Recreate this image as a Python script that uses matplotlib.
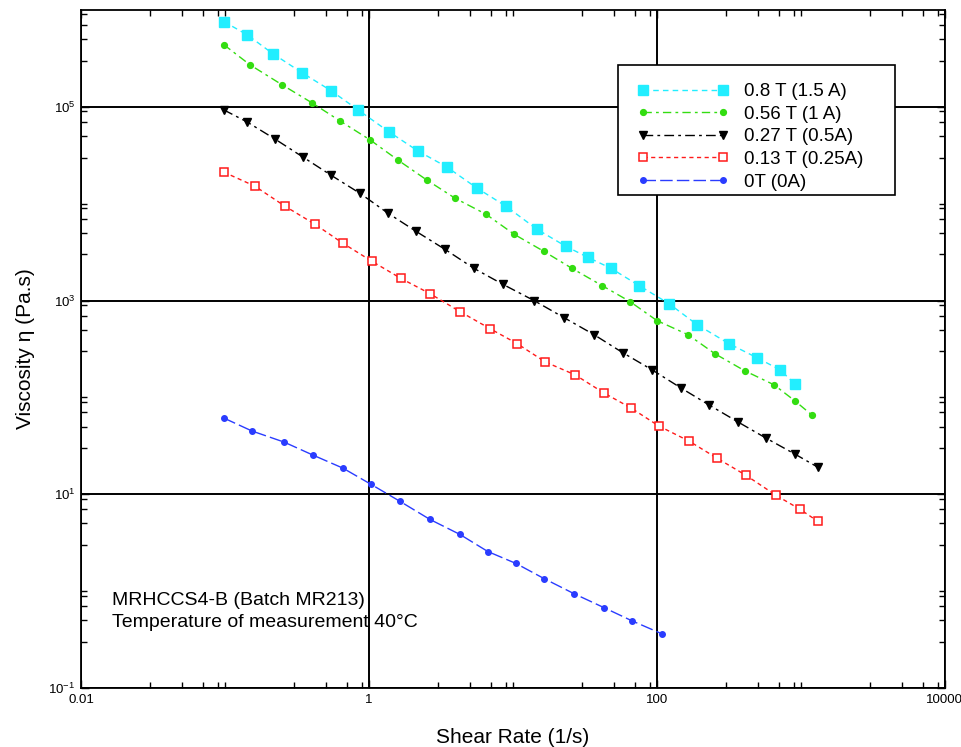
from pathlib import Path

import matplotlib

matplotlib.use("Agg")

import matplotlib.pyplot as plt
import numpy as np
from matplotlib.patches import Rectangle
from matplotlib.ticker import FixedLocator, FuncFormatter, NullFormatter


# DATA
SERIES_LABELS = [
    "0.8 T (1.5 A)",
    "0.56 T (1 A)",
    "0.27 T (0.5A)",
    "0.13 T (0.25A)",
    "0T (0A)",
]

RATE_08T = [0.098, 0.142, 0.215, 0.343, 0.545, 0.839, 1.38, 2.19, 3.48, 5.62, 8.94,
            14.7, 23.3, 33.2, 48.0, 75.0, 121, 190, 316, 495, 714, 908]
VISC_08T = [760000, 557000, 354000, 225000, 147000, 93100, 55100, 35000, 23900,
            14500, 9420, 5440, 3630, 2790, 2150, 1430, 931, 564, 359, 257, 193, 138]

RATE_056T = [0.098, 0.149, 0.249, 0.402, 0.629, 1.02, 1.59, 2.53, 3.96, 6.49, 10.2,
             16.4, 25.7, 41.5, 64.9, 100, 164, 253, 408, 650, 908, 1190]
VISC_056T = [439000, 272000, 169000, 110000, 71600, 45500, 28200, 17500, 11400,
             7790, 4830, 3220, 2150, 1430, 977, 621, 445, 282, 188, 135, 92.1, 65.9]

RATE_027T = [0.098, 0.142, 0.222, 0.348, 0.545, 0.866, 1.355, 2.12, 3.37, 5.36, 8.52,
             14.0, 22.6, 36.5, 58.0, 92.3, 147, 230, 366, 572, 908, 1312]
VISC_027T = [93100, 70000, 46600, 30300, 19700, 12800, 7980, 5190, 3380, 2150, 1470,
             1000, 667, 445, 289, 193, 125, 83.6, 55.7, 38.0, 26.0, 19.0]

RATE_013T = [0.098, 0.161, 0.261, 0.422, 0.66, 1.05, 1.67, 2.65, 4.28, 6.92, 10.7,
             16.7, 27.0, 42.9, 65.9, 103, 167, 261, 415, 670, 984, 1312]
VISC_013T = [21200, 15200, 9420, 6130, 3900, 2540, 1690, 1180, 770, 513, 359, 233,
             171, 111, 77.9, 50.7, 35.4, 23.6, 15.7, 9.77, 7.0, 5.25]

RATE_0T = [0.098, 0.154, 0.257, 0.408, 0.66, 1.03, 1.64, 2.65, 4.28, 6.70, 10.5,
           16.4, 26.5, 42.9, 67.0, 108]
VISC_0T = [61.3, 45.0, 34.6, 25.4, 18.6, 12.7, 8.46, 5.50, 3.85, 2.56, 1.93, 1.35,
           0.942, 0.675, 0.494, 0.363]

X_MAJOR = [0.01, 1, 100, 10000]
Y_MAJOR = [0.1, 10, 1e3, 1e5]

NOTE_LINES = [
    "MRHCCS4-B (Batch MR213)",
    "Temperature of measurement 40\u00b0C",
]


# STYLE
plt.rcParams["font.family"] = ["Liberation Sans", "DejaVu Sans"]
plt.rcParams["mathtext.fontset"] = "custom"
plt.rcParams["mathtext.rm"] = "Liberation Sans"

SERIES_STYLES = [
    dict(color="#22eeff", marker="s", markersize=6.5, mfc="#22eeff", mec="#22eeff",
         dashes=(4, 3)),
    dict(color="#33dd11", marker="o", markersize=4.2, mfc="#33dd11", mec="#33dd11",
         dashes=(6, 3, 2, 3)),
    dict(color="black", marker="v", markersize=6, mfc="black", mec="black",
         dashes=(7, 3, 2, 3)),
    dict(color="#ff1a1a", marker="s", markersize=6, mfc="white", mec="#ff1a1a",
         mew=1.1, dashes=(3, 2.5)),
    dict(color="#2a3cff", marker="o", markersize=4, mfc="#2a3cff", mec="#2a3cff",
         dashes=(9, 3)),
]


def minor_positions(low_exp, high_exp):
    positions = []
    for exponent in range(low_exp, high_exp):
        for factor in [1, 3, 5, 7, 9]:
            positions.append(factor * 10.0 ** exponent)
    return positions


def power_label(value, _pos):
    exponent = int(round(np.log10(value)))
    return r"$\mathregular{10^{%d}}$" % exponent


def plain_label(value, _pos):
    if value < 1:
        return f"{value:g}"
    return f"{int(value)}"


def main():
    figure = plt.figure(figsize=(9.61, 7.47), dpi=100)
    axis = figure.add_axes([0.0843, 0.079, 0.899, 0.9076])

    all_data = [
        (RATE_08T, VISC_08T),
        (RATE_056T, VISC_056T),
        (RATE_027T, VISC_027T),
        (RATE_013T, VISC_013T),
        (RATE_0T, VISC_0T),
    ]

    for (rate, visc), label, style in zip(all_data, SERIES_LABELS, SERIES_STYLES):
        style = dict(style)
        dashes = style.pop("dashes")
        line, = axis.plot(rate, visc, label=label, linewidth=1.0, **style)
        line.set_dashes(dashes)

    axis.set_xscale("log")
    axis.set_yscale("log")
    axis.set_xlim(0.01, 10000)
    axis.set_ylim(0.1, 1e6)

    axis.xaxis.set_major_locator(FixedLocator(X_MAJOR))
    axis.yaxis.set_major_locator(FixedLocator(Y_MAJOR))
    axis.xaxis.set_minor_locator(FixedLocator(
        [v for v in minor_positions(-2, 4) if v not in X_MAJOR]))
    axis.yaxis.set_minor_locator(FixedLocator(
        [v for v in minor_positions(-1, 6) if v not in Y_MAJOR]))
    axis.xaxis.set_major_formatter(FuncFormatter(plain_label))
    axis.yaxis.set_major_formatter(FuncFormatter(power_label))
    axis.xaxis.set_minor_formatter(NullFormatter())
    axis.yaxis.set_minor_formatter(NullFormatter())

    axis.tick_params(which="both", direction="in", top=True, right=True,
                     width=1.0, colors="black")
    axis.tick_params(which="major", length=6, labelsize=9.5)
    axis.tick_params(axis="x", which="major", pad=4)
    axis.tick_params(axis="y", which="major", pad=4)
    axis.tick_params(which="minor", length=4)

    for spine in axis.spines.values():
        spine.set_linewidth(1.3)

    axis.grid(which="major", color="black", linewidth=1.4)
    axis.set_axisbelow(True)

    axis.set_xlabel("Shear Rate (1/s)", fontsize=15, labelpad=16)
    axis.set_ylabel("Viscosity \u03b7 (Pa.s)", fontsize=15, labelpad=10)

    axis.text(0.0359, 0.113, "\n".join(NOTE_LINES), transform=axis.transAxes,
              fontsize=14, va="center", ha="left", linespacing=1.35)

    # legend frame drawn separately so the padding matches the reference
    frame = Rectangle((0.6215, 0.727), 0.3205, 0.192, transform=axis.transAxes,
                      facecolor="white", edgecolor="black", linewidth=1.2,
                      zorder=3)
    axis.add_patch(frame)

    legend = axis.legend(
        loc="upper left",
        bbox_to_anchor=(0.6435, 0.892),
        numpoints=2,
        handlelength=4.9,
        handletextpad=0.8,
        fontsize=13.5,
        frameon=False,
        borderpad=0,
        labelspacing=0.29,
        borderaxespad=0,
    )
    legend.set_zorder(4)

    figure.savefig(Path("out.png"), dpi=100)
    plt.close(figure)


if __name__ == "__main__":
    main()
